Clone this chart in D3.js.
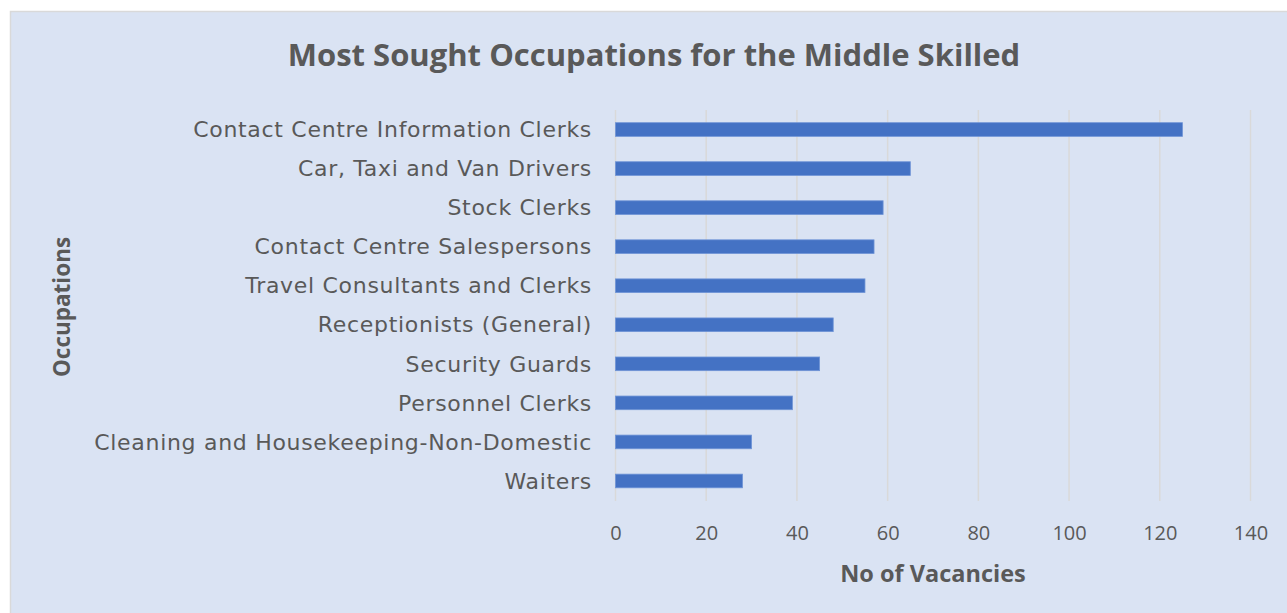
<!DOCTYPE html>
<html><head><meta charset="utf-8">
<script src="https://cdn.jsdelivr.net/npm/d3@7"></script>
<style>html,body{margin:0;padding:0;background:#fff;}</style>
</head><body>
<svg id="chart" width="1287" height="613"></svg>
<script>
const categories = ["Contact Centre Information Clerks","Car, Taxi and Van Drivers","Stock Clerks","Contact Centre Salespersons","Travel Consultants and Clerks","Receptionists (General)","Security Guards","Personnel Clerks","Cleaning and Housekeeping-Non-Domestic","Waiters"];
const vacancies = [125,65,59,57,55,48,45,39,30,28];
const xTicks = [0,20,40,60,80,100,120,140];
const title = "Most Sought Occupations for the Middle Skilled";
const xTitle = "No of Vacancies";
const yTitle = "Occupations";

const svg = d3.select("#chart");
svg.append("rect").attr("x",10.5).attr("y",11.5).attr("width",1290).attr("height",620)
  .attr("fill","#dae3f3").attr("stroke","#d9d9d9").attr("stroke-width",1.5);

const x = d3.scaleLinear().domain([0,140]).range([615.5,1250.5]);
const y = d3.scaleBand().domain(categories).range([110,500.5]).paddingInner(0.65).paddingOuter(0.325);

const g = svg.append("g");
g.selectAll("line.grid").data(xTicks).join("line").attr("class","grid")
  .attr("x1",d=>x(d)).attr("x2",d=>x(d)).attr("y1",110).attr("y2",501)
  .attr("stroke","#d9d9d9").attr("stroke-width",1.5);

g.selectAll("rect.bar").data(categories).join("rect").attr("class","bar")
  .attr("x",x(0)).attr("y",d=>y(d)).attr("width",(d,i)=>x(vacancies[i])-x(0)).attr("height",y.bandwidth())
  .attr("fill","#4472c4").attr("stroke","#6f94d6").attr("stroke-width",0.8);

const xAxis = d3.axisBottom(x).tickValues(xTicks).tickSize(0).tickPadding(0);
const xa = svg.append("g").attr("transform","translate(0,540)").call(xAxis);
xa.select(".domain").remove();
xa.selectAll("text").attr("font-family","'Open Sans', sans-serif").attr("font-size",20).attr("fill","#595959").attr("dy","0");

const yAxis = d3.axisLeft(y).tickSize(0).tickPadding(0);
const ya = svg.append("g").attr("transform","translate(592,0)").call(yAxis);
ya.select(".domain").remove();
ya.selectAll("text").attr("font-family","'DejaVu Sans', sans-serif").attr("font-weight",400).attr("font-size",22)
  .attr("letter-spacing","0.7px").attr("fill","#595959").attr("dy","0.35em");

svg.append("text").attr("x",654).attr("y",66).attr("text-anchor","middle")
  .attr("font-family","'Open Sans', sans-serif").attr("font-weight",700).attr("font-size",31).attr("fill","#595959").text(title);
svg.append("text").attr("x",933).attr("y",582).attr("text-anchor","middle")
  .attr("font-family","'Open Sans', sans-serif").attr("font-weight",700).attr("font-size",23.5).attr("fill","#595959").text(xTitle);
svg.append("text").attr("transform","translate(70,307) rotate(-90)").attr("text-anchor","middle")
  .attr("font-family","'Open Sans', sans-serif").attr("font-weight",700).attr("font-size",22.5).attr("fill","#595959").text(yTitle);
</script>
</body></html>
